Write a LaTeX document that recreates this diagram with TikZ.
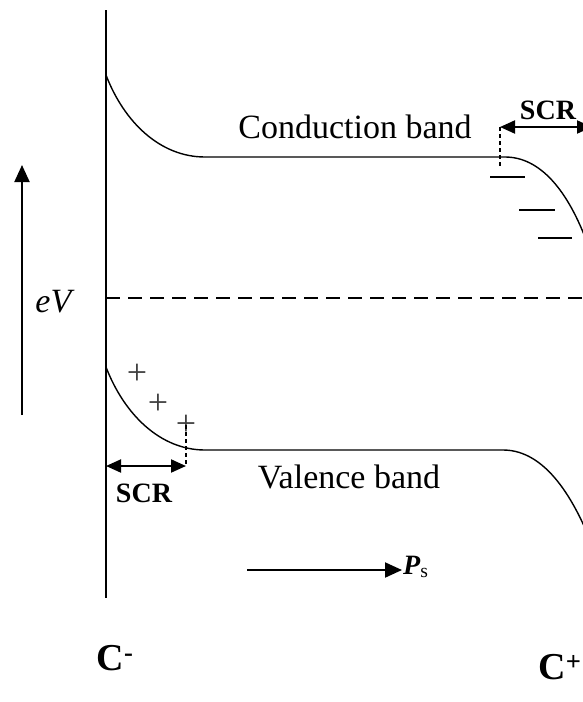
\documentclass[tikz,border=0pt]{standalone}
\usepackage{fontspec}
\setmainfont{Liberation Serif}
\usetikzlibrary{arrows.meta}

\tikzset{
    band/.style={line width=1.4pt},
    arrowline/.style={line width=2pt, -{Triangle[length=17pt,width=15pt]}},
    scrarrow/.style={line width=2pt, {Triangle[length=15pt,width=13pt]}-{Triangle[length=15pt,width=13pt]}},
    guide/.style={line width=1.3pt, dash pattern=on 4pt off 3pt},
    trap/.style={line width=1.2pt},
    lbl/.style={font=\fontsize{34}{40}\selectfont, inner sep=0pt},
    scrlbl/.style={font=\fontsize{28}{32}\selectfont\bfseries, inner sep=0pt},
    electrode/.style={font=\fontsize{38}{44}\selectfont\bfseries, inner sep=0pt},
    charge/.style={font=\fontsize{36}{40}\selectfont, text=black!75, inner sep=0pt}
}

\begin{document}
\begin{tikzpicture}[x=1pt, y=-1pt]
    \useasboundingbox (0,0) rectangle (583,702);

    % Interface
    \coordinate (top) at (106,10);
    \coordinate (bottom) at (106,598);
    \draw[line width=1.4pt] (top) -- (bottom);

    % Fermi level
    \coordinate (fermiL) at (106,298);
    \coordinate (fermiR) at (583,298);
    \draw[line width=1.1pt, dash pattern=on 14pt off 8pt] (fermiL) -- (fermiR);

    % Bands
    \draw[band] (106,75) .. controls (124,122) and (160,157) .. (205,157) -- (505,157)
        .. controls (540,157) and (568,190) .. (588,245);
    \draw[band] (106,367) .. controls (124,414) and (160,450) .. (205,450) -- (503,450)
        .. controls (538,450) and (566,483) .. (588,535);

    \node[lbl] (cband) at (355,127) {Conduction band};
    \node[lbl] (vband) at (349,477) {Valence band};

    % Energy axis
    \coordinate (evB) at (22,415);
    \coordinate (evT) at (22,165);
    \draw[arrowline] (evB) -- (evT);
    \node[lbl] (ev) at (55,302) {\textit{eV}};

    % Space charge region, right
    \coordinate (scrRa) at (500,127);
    \coordinate (scrRb) at (592,127);
    \coordinate (scrRd) at (500,167);
    \draw[scrarrow] (scrRa) -- (scrRb);
    \draw[guide] (scrRa) -- (scrRd);
    \node[scrlbl] (scrR) at (548,110) {SCR};
    \draw[trap] (490,177) -- (525,177);
    \draw[trap] (519,210) -- (555,210);
    \draw[trap] (538,238) -- (572,238);

    % Space charge region, left
    \node[charge] (plus1) at (137,374) {+};
    \node[charge] (plus2) at (158,404) {+};
    \node[charge] (plus3) at (186,425) {+};
    \coordinate (scrLa) at (106,466);
    \coordinate (scrLb) at (186,466);
    \draw[scrarrow] (scrLa) -- (scrLb);
    \draw[guide] (plus3.center) -- (scrLb);
    \node[scrlbl] (scrL) at (144,493) {SCR};

    % Polarization
    \node[font=\fontsize{28}{32}\selectfont, inner sep=1pt, anchor=west] (ps) at (402,567) {\textbf{\textit{P}}\textsubscript{s}};
    \coordinate (psL) at (247,570);
    \draw[arrowline] (psL) -- (ps.west |- psL);

    % Electrodes
    \node[electrode] (cminus) at (115,658) {C\textsuperscript{-}};
    \node[electrode] (cplus) at (560,667) {C\textsuperscript{+}};
\end{tikzpicture}
\end{document}
